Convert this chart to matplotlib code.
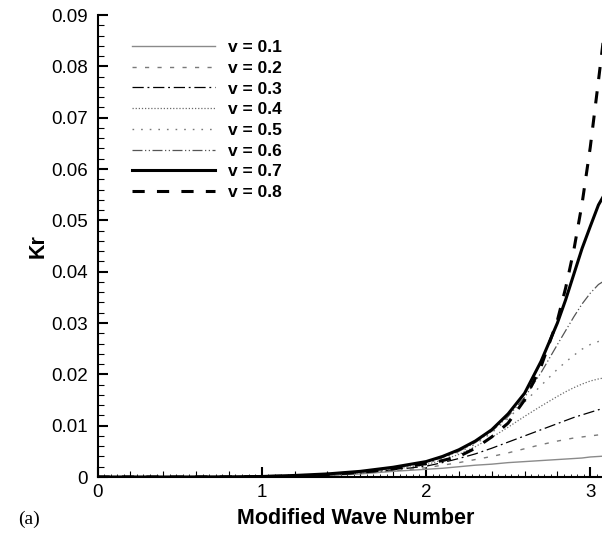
import matplotlib
matplotlib.use("Agg")
import matplotlib.pyplot as plt
from matplotlib.ticker import MultipleLocator, FixedLocator
import numpy as np

plt.rcParams['font.family'] = ['Liberation Sans', 'DejaVu Sans']

wave = [0.0, 0.5, 0.8, 1.0, 1.2, 1.4, 1.6, 1.8, 2.0, 2.1, 2.2, 2.3, 2.4, 2.5,
        2.6, 2.7, 2.8, 2.85, 2.9, 2.95, 3.0, 3.05, 3.1, 3.1416]

kr_01 = [0, 0, 0.00002, 0.00005, 0.0001, 0.0003, 0.0006, 0.0011, 0.0015, 0.0017, 0.0020, 0.0023,
         0.0025, 0.0028, 0.0030, 0.0032, 0.0034, 0.0035, 0.0036, 0.0037, 0.0039, 0.0040, 0.0041, 0.0042]
kr_02 = [0, 0, 0.00002, 0.00005, 0.0001, 0.0003, 0.0007, 0.0012, 0.0018, 0.0023, 0.0028, 0.0034,
         0.0040, 0.0047, 0.0055, 0.0063, 0.0070, 0.0073, 0.0076, 0.0078, 0.0080, 0.0082, 0.0084, 0.0085]
kr_03 = [0, 0, 0.00002, 0.00006, 0.0002, 0.0004, 0.0008, 0.0014, 0.0021, 0.0028, 0.0036, 0.0045,
         0.0056, 0.0068, 0.0080, 0.0092, 0.0104, 0.0110, 0.0116, 0.0121, 0.0126, 0.0131, 0.0135, 0.0137]
kr_04 = [0, 0, 0.00002, 0.00006, 0.0002, 0.0004, 0.0008, 0.0015, 0.0024, 0.0033, 0.0044, 0.0059,
         0.0077, 0.0097, 0.0118, 0.0138, 0.0157, 0.0166, 0.0174, 0.0181, 0.0187, 0.0191, 0.0194, 0.0195]
kr_05 = [0, 0, 0.00002, 0.00006, 0.0002, 0.0004, 0.0008, 0.0016, 0.0026, 0.0036, 0.0048, 0.0064,
         0.0086, 0.0114, 0.0146, 0.0178, 0.0210, 0.0224, 0.0237, 0.0249, 0.0258, 0.0264, 0.0268, 0.0270]
kr_06 = [0, 0, 0.00003, 0.0001, 0.0002, 0.0005, 0.0009, 0.0017, 0.0028, 0.0038, 0.0050, 0.0067,
         0.0089, 0.0118, 0.0155, 0.0203, 0.0258, 0.0285, 0.0312, 0.0337, 0.0358, 0.0375, 0.0385, 0.0388]
kr_07 = [0, 0, 0.00003, 0.0001, 0.0003, 0.0006, 0.0011, 0.0019, 0.0030, 0.0040, 0.0053, 0.0070,
         0.0092, 0.0123, 0.0163, 0.0225, 0.0300, 0.0345, 0.0395, 0.0445, 0.0488, 0.0530, 0.0558, 0.0572]
kr_08 = [0, 0, 0.00002, 0.00008, 0.0002, 0.0005, 0.0009, 0.0016, 0.0026, 0.0032, 0.0040, 0.0056,
         0.0078, 0.0105, 0.0150, 0.0215, 0.0305, 0.0368, 0.0442, 0.0532, 0.0642, 0.0772, 0.0905, 0.1010]

labels = ["v = 0.1", "v = 0.2", "v = 0.3", "v = 0.4", "v = 0.5", "v = 0.6", "v = 0.7", "v = 0.8"]
series = [kr_01, kr_02, kr_03, kr_04, kr_05, kr_06, kr_07, kr_08]
styles = [
    dict(color="#8a8a8a", lw=1.0, ls="-"),
    dict(color="#7a7a7a", lw=1.0, ls=(0, (3, 6))),
    dict(color="black", lw=0.9, ls=(0, (9, 3, 1.5, 3))),
    dict(color="#6a6a6a", lw=0.9, ls=(0, (1, 1.5))),
    dict(color="#7a7a7a", lw=1.0, ls=(0, (1.2, 5))),
    dict(color="#555555", lw=0.9, ls=(0, (8, 2, 1, 2, 1, 2))),
    dict(color="black", lw=2.2, ls="-"),
    dict(color="black", lw=2.2, ls=(0, (4, 4))),
]

fig = plt.figure(figsize=(6.02, 5.40), dpi=100)
ax = fig.add_axes([97.5 / 602, 63 / 540, 516 / 602, 462 / 540])

for y, lab, st in zip(series, labels, styles):
    ax.plot(wave, y, label=lab, **st)

ax.set_xlim(0, np.pi)
ax.set_ylim(0, 0.09)
ax.spines['top'].set_visible(False)
ax.spines['right'].set_visible(False)
ax.spines['left'].set_linewidth(1.5)
ax.spines['bottom'].set_linewidth(1.5)

ax.xaxis.set_major_locator(FixedLocator([0, 1, 2, 3]))
ax.xaxis.set_minor_locator(MultipleLocator(0.2))
ax.yaxis.set_minor_locator(MultipleLocator(0.002))
ax.set_yticks(np.arange(0, 0.0901, 0.01))
ax.set_yticklabels(["0"] + ["%.2f" % v for v in np.arange(0.01, 0.0901, 0.01)])

ax.tick_params(which='major', direction='in', length=7, width=1.5, labelsize=13.5, pad=7)
ax.tick_params(axis='x', which='major', pad=5)
ax.tick_params(which='minor', direction='in', length=4, width=0.8)

# tiny ticks along the x axis
sec = ax.secondary_xaxis('bottom')
sec.xaxis.set_major_locator(MultipleLocator(0.04))
sec.tick_params(direction='in', length=2, width=0.6, labelbottom=False)
sec.spines['bottom'].set_visible(False)

ax.set_xlabel("Modified Wave Number", fontsize=15.5, fontweight='bold', labelpad=5)
ax.set_ylabel("Kr", fontsize=15.5, fontweight='bold', labelpad=2)
fig.text(18 / 602, 1 - 519 / 540, "(a)", fontsize=14, family='Liberation Serif', va='center')

leg = ax.legend(loc='upper left', bbox_to_anchor=(125 / 602, 1 - 33 / 540),
                bbox_transform=fig.transFigure, frameon=False,
                prop=dict(weight='bold', size=12.5), handlelength=4.8,
                handletextpad=0.75, labelspacing=0.32, borderaxespad=0)

fig.savefig("out.png", dpi=100)
